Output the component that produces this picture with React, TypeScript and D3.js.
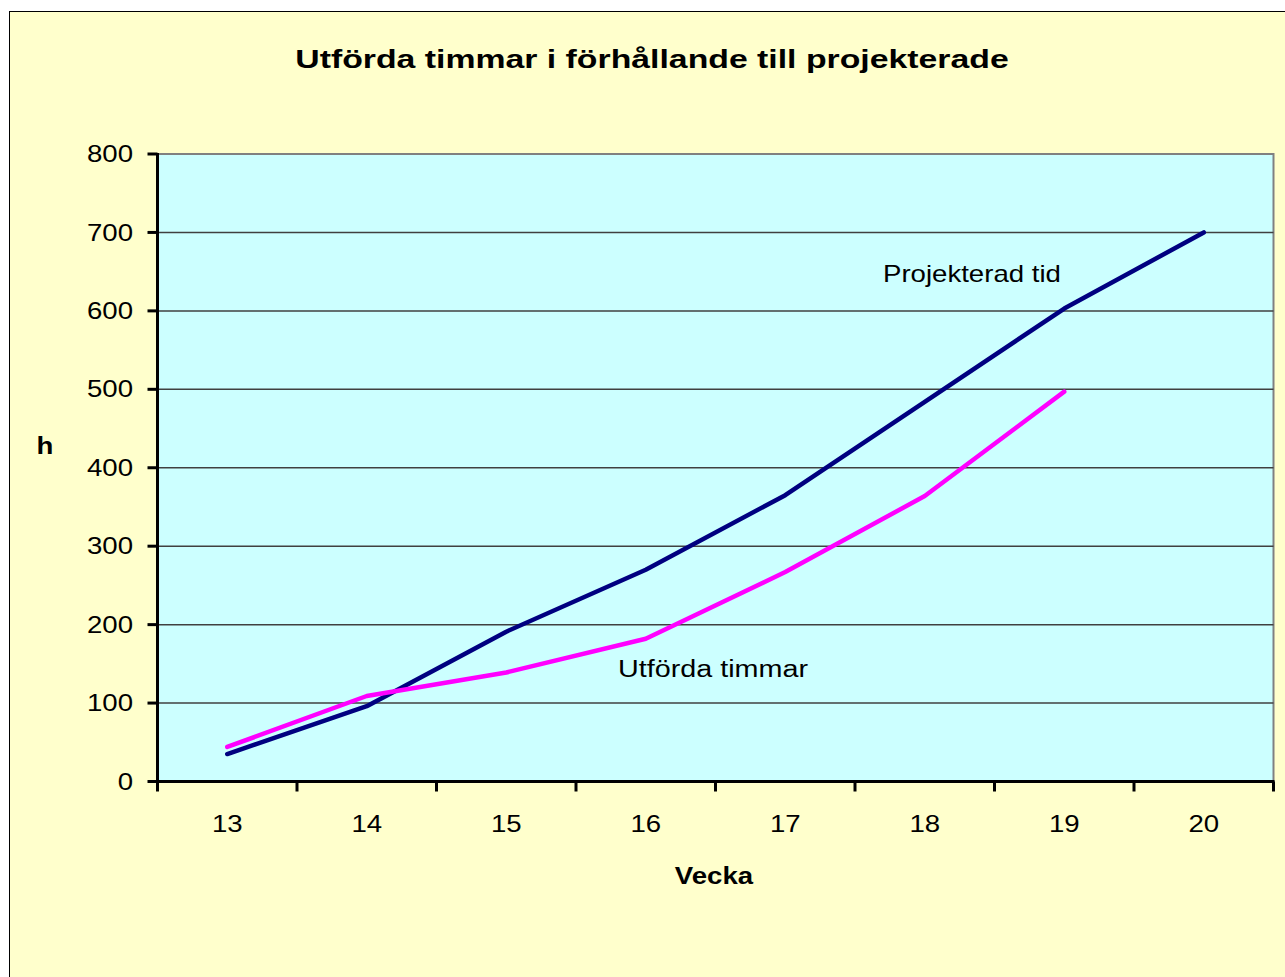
import * as d3 from "d3";

const weeks = ["13", "14", "15", "16", "17", "18", "19", "20"];
const projekterad = [35, 96, 191, 270, 365, 484, 603, 700];
const utforda = [44, 109, 139, 182, 267, 364, 497];
const yTicks = [0, 100, 200, 300, 400, 500, 600, 700, 800];

const font = "Arial, 'Liberation Sans', sans-serif";

// texten i originalet är utdragen på bredden
const T = ({ x, y, sx = 1.2, anchor = "start", size = 23, bold = false, dy, children }: any) => (
  <text
    transform={`translate(${x},${y}) scale(${sx},1)`}
    dy={dy}
    textAnchor={anchor}
    fontFamily={font}
    fontSize={size}
    fontWeight={bold ? "bold" : "normal"}
  >
    {children}
  </text>
);

const App = () => {
  const width = 1285;
  const height = 977;
  const left = 157.5;
  const right = 1273.5;
  const top = 154;
  const bottom = 781.5;

  const x = d3.scaleBand().domain(weeks).range([left, right]);
  const y = d3.scaleLinear().domain([0, 800]).range([bottom, top]);

  const line = d3
    .line<number>()
    .x((_, i) => (x(weeks[i]) as number) + x.bandwidth() / 2)
    .y((d) => y(d));

  const edges = weeks.map((w) => x(w) as number).concat([right]);

  return (
    <svg
      width={width}
      height={height}
      style={{ position: "absolute", left: 0, top: 0, background: "white" }}
    >
      <rect x={9.5} y={11.5} width={1300} height={1000} fill="#FFFFCC" stroke="#000" strokeWidth={1} />
      <T x={652} y={68} anchor="middle" size={26} sx={1.3} bold>
        Utförda timmar i förhållande till projekterade
      </T>

      <rect x={left} y={top} width={right - left} height={bottom - top} fill="#CCFFFF" stroke="#808080" strokeWidth={2} />

      {yTicks.slice(1, -1).map((t) => (
        <line key={t} x1={left} x2={right} y1={y(t)} y2={y(t)} stroke="#404040" strokeWidth={1.5} />
      ))}

      <path d={line(projekterad) || ""} fill="none" stroke="#000080" strokeWidth={4.5} strokeLinejoin="round" strokeLinecap="round" />
      <path d={line(utforda) || ""} fill="none" stroke="#FF00FF" strokeWidth={4.5} strokeLinejoin="round" strokeLinecap="round" />

      {/* axlar */}
      <line x1={left} x2={left} y1={top - 1} y2={bottom + 1} stroke="#000" strokeWidth={3} />
      <line x1={left - 1} x2={right + 1} y1={bottom} y2={bottom} stroke="#000" strokeWidth={3} />
      {yTicks.map((t) => (
        <g key={t}>
          <line x1={left - 10} x2={left} y1={y(t)} y2={y(t)} stroke="#000" strokeWidth={3} />
          <T x={133} y={y(t)} dy="0.35em" anchor="end">
            {t}
          </T>
        </g>
      ))}
      {edges.map((e, i) => (
        <line key={i} x1={e} x2={e} y1={bottom} y2={bottom + 10} stroke="#000" strokeWidth={3} />
      ))}
      {weeks.map((w) => (
        <T key={w} x={(x(w) as number) + x.bandwidth() / 2} y={832} anchor="middle">
          {w}
        </T>
      ))}

      <T x={45} y={454} anchor="middle" bold>h</T>
      <T x={714} y={884} anchor="middle" bold>Vecka</T>

      <T x={883} y={282}>Projekterad tid</T>
      <T x={618} y={677} sx={1.25}>Utförda timmar</T>
    </svg>
  );
};

export default App;
